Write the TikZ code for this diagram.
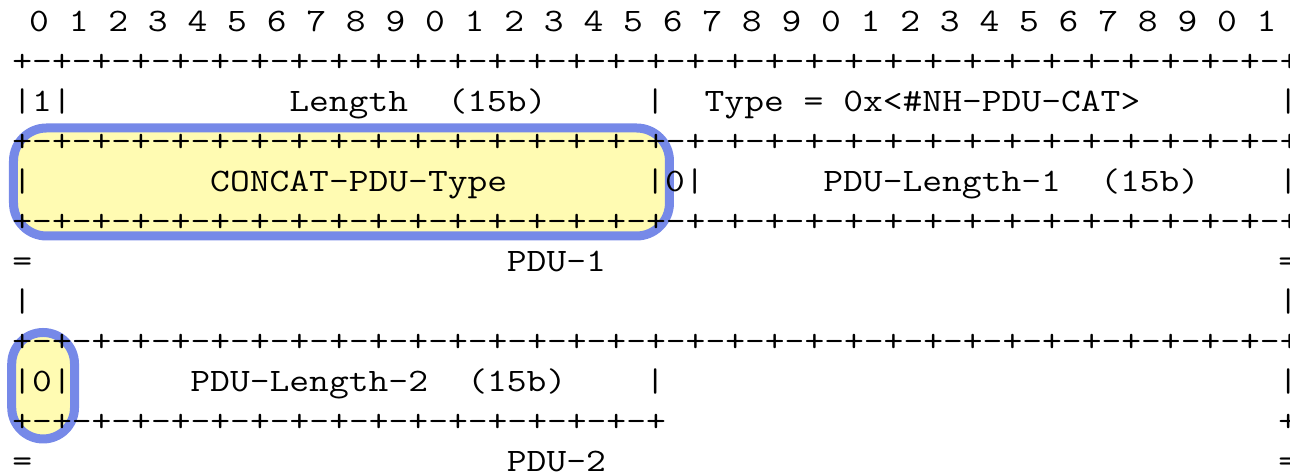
\documentclass[tikz,border=0pt]{standalone}
\usepackage{fontspec}
\definecolor{markblue}{RGB}{118,137,232}
\definecolor{markyellow}{RGB}{255,251,178}
\tikzset{cell/.style={anchor=base west,inner sep=0pt,outer sep=0pt,xscale=1.1745,transform shape,font=\ttfamily\fontsize{16.37}{20}\selectfont},
	hilite/.style={draw=markblue,fill=markyellow,line width=4.5pt},
}

\begin{document}
\begin{tikzpicture}[x=9.89pt,y=-20pt]
		\useasboundingbox (-0.6274,-0.8) rectangle (64.5915,11.075);
		% highlighted fields
		\path[hilite,rounded corners=16.5pt] (0.055,2.4) rectangle (33.22,5.1);
		\path[hilite,rounded corners=15.7pt] (-0.035,7.5125) rectangle (3.14,10.175);
		
		\node[xshift=-1.5pt,cell] (bits) at (1,0) {0 1 2 3 4 5 6 7 8 9 0 1 2 3 4 5 6 7 8 9 0 1 2 3 4 5 6 7 8 9 0 1};
		\foreach \r in {1,3,5,8}
			\node[cell] (rule\r) at (0,\r) {+-+-+-+-+-+-+-+-+-+-+-+-+-+-+-+-+-+-+-+-+-+-+-+-+-+-+-+-+-+-+-+-+};
		
		\node[cell] (flag1) at (0,2) {|1|};
		\node[cell] (len) at (14,2) {Length};
		\node[cell] (len15) at (22,2) {(15b)};
		\node[cell] (sep2) at (32,2) {|};
		\node[cell] (type) at (35,2) {Type = 0x<\#NH-PDU-CAT>};
		\node[cell] (end2) at (64,2) {|};
		
		\node[cell] (beg4) at (0,4) {|};
		\node[cell] (cctype) at (10,4) {CONCAT-PDU-Type};
		\node[cell] (flag4) at (32,4) {|0|};
		\node[cell] (plen1) at (41,4) {PDU-Length-1};
		\node[cell] (plen1b) at (55,4) {(15b)};
		\node[cell] (end4) at (64,4) {|};
		
		\node[cell] (beg6) at (0,6) {=};
		\node[cell] (pdu1) at (25,6) {PDU-1};
		\node[cell] (end6) at (64,6) {=};
		
		\node[cell] (beg7) at (0,7) {|};
		\node[cell] (end7) at (64,7) {|};
		
		\node[cell] (flag9) at (0,9) {|0|};
		\node[cell] (plen2) at (9,9) {PDU-Length-2};
		\node[cell] (plen2b) at (23,9) {(15b)};
		\node[cell] (sep9) at (32,9) {|};
		\node[cell] (end9) at (64,9) {|};
		
		\node[cell] (rule10) at (0,10) {+-+-+-+-+-+-+-+-+-+-+-+-+-+-+-+-+};
		\node[cell] (end10) at (64,10) {+};
		
		\node[cell] (beg11) at (0,11) {=};
		\node[cell] (pdu2) at (25,11) {PDU-2};
		\node[cell] (end11) at (64,11) {=};
	\end{tikzpicture}
\end{document}
